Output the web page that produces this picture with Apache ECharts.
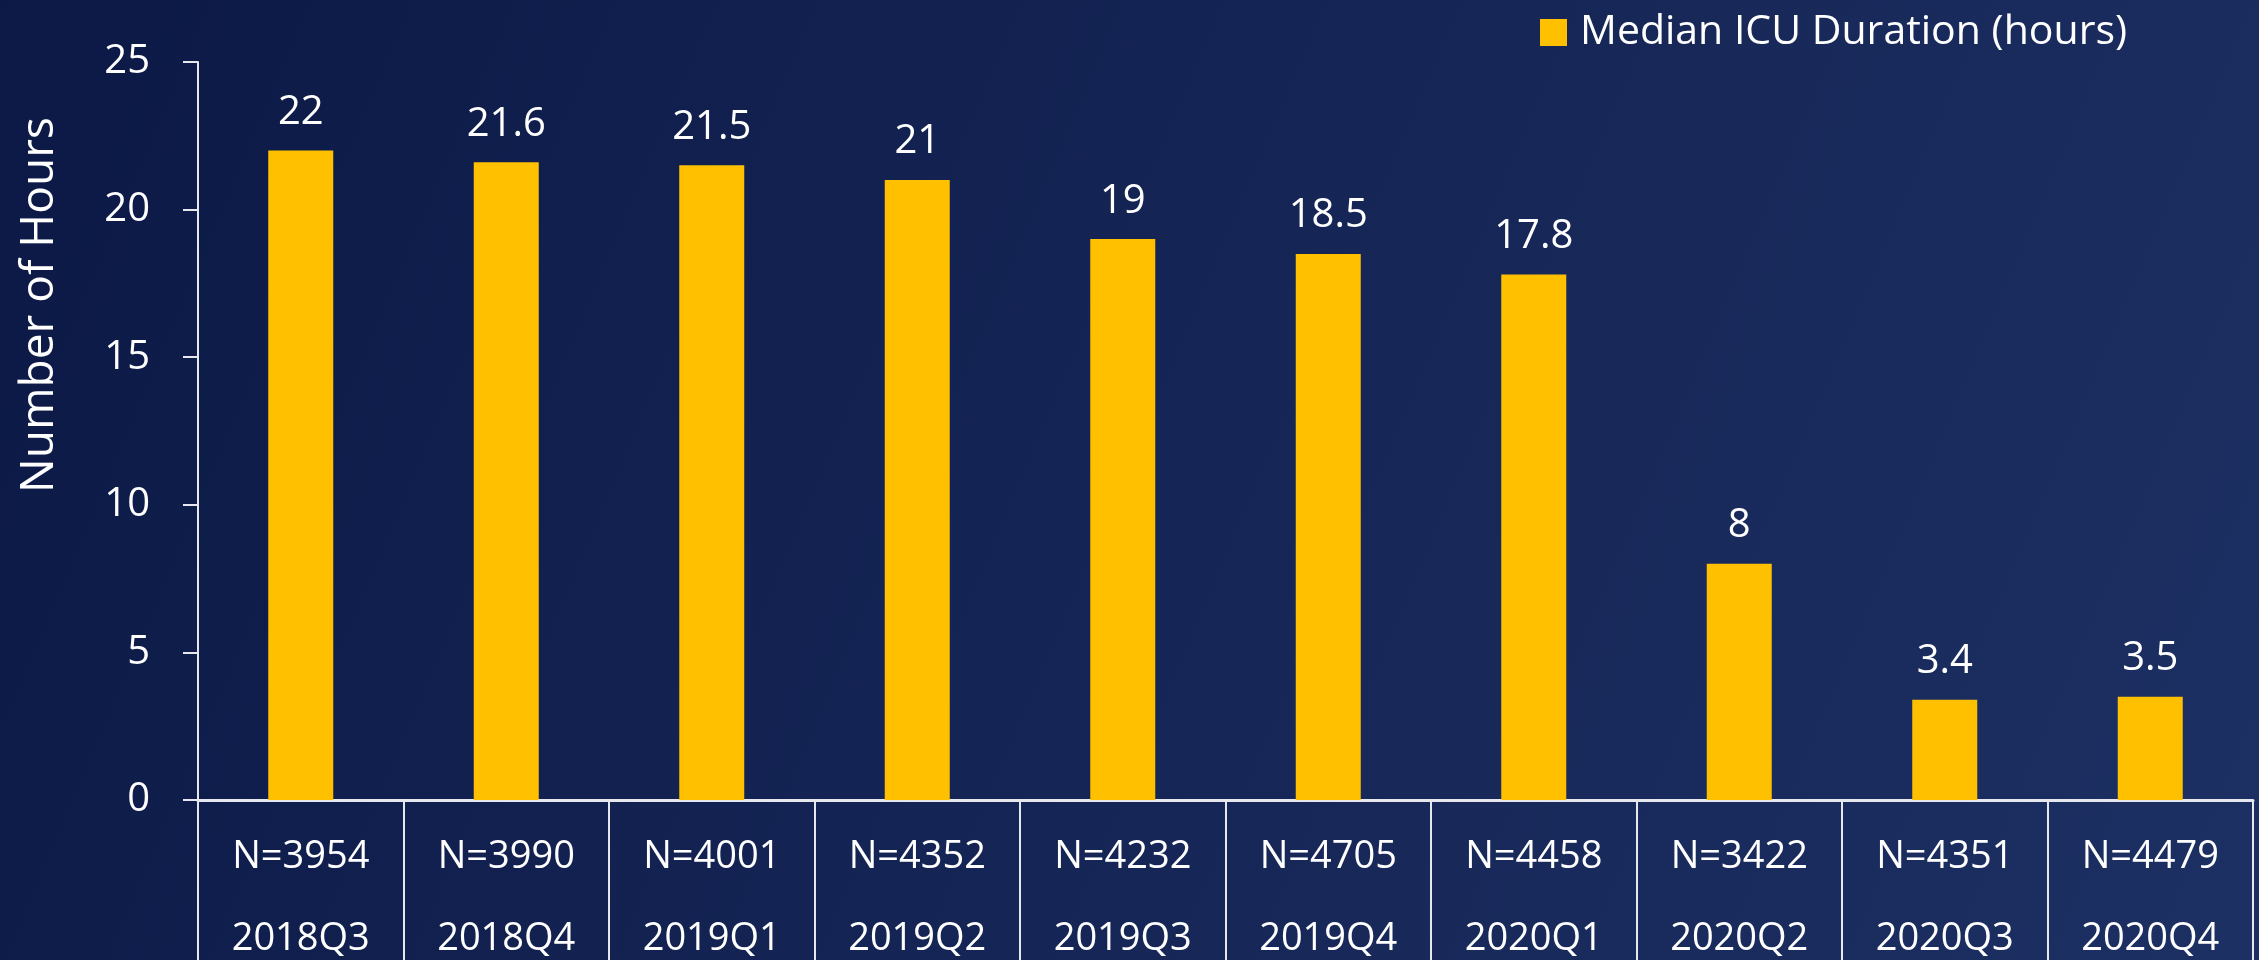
<!DOCTYPE html>
<html>
<head>
<meta charset="utf-8">
<title>Median ICU Duration</title>
<script src="https://cdn.jsdelivr.net/npm/echarts@6/dist/echarts.min.js"></script>
<style>
  html, body { margin: 0; padding: 0; width: 2259px; height: 960px; overflow: hidden; background: #12204f; }
  #chart { width: 2259px; height: 960px; }
</style>
</head>
<body>
<div id="chart"></div>
<script>
// Quarterly median ICU stay, with patient counts per quarter
const quarters = ['2018Q3', '2018Q4', '2019Q1', '2019Q2', '2019Q3', '2019Q4', '2020Q1', '2020Q2', '2020Q3', '2020Q4'];
const patientCounts = [3954, 3990, 4001, 4352, 4232, 4705, 4458, 3422, 4351, 4479];
const medianHours = [22, 21.6, 21.5, 21, 19, 18.5, 17.8, 8, 3.4, 3.5];
const seriesName = 'Median ICU Duration (hours)';
const yAxisTitle = 'Number of Hours';

const FONT = 'Open Sans';
const LINE = '#e6e8ee';

const chart = echarts.init(document.getElementById('chart'), null, { renderer: 'canvas' });

chart.setOption({
  backgroundColor: {
    type: 'linear', x: 0, y: 0, x2: 1, y2: 1,
    colorStops: [
      { offset: 0, color: '#0c1946' },
      { offset: 1, color: '#1d3063' }
    ]
  },
  animation: false,
  textStyle: { fontFamily: FONT, color: '#ffffff' },
  legend: {
    data: [seriesName],
    left: 1540,
    top: 12,
    padding: 0,
    icon: 'rect',
    itemWidth: 27,
    itemHeight: 27,
    textStyle: { color: '#ffffff', fontSize: 41, fontFamily: FONT, padding: [0, 0, 0, 8] }
  },
  grid: { left: 198, right: 6, top: 62, bottom: 160, containLabel: false, outerBoundsMode: 'none' },
  xAxis: {
    type: 'category',
    data: quarters,
    axisLine: { show: true, lineStyle: { color: LINE, width: 3 } },
    axisTick: { show: true, length: 170, lineStyle: { color: LINE, width: 2 } },
    axisLabel: {
      color: '#ffffff',
      fontFamily: FONT,
      fontSize: 38,
      lineHeight: 82,
      margin: 16,
      interval: 0,
      formatter: (value, index) => 'N=' + patientCounts[index] + '\n' + value
    },
    splitLine: { show: false }
  },
  yAxis: {
    type: 'value',
    min: 0,
    max: 25,
    interval: 5,
    axisLine: { show: true, lineStyle: { color: LINE, width: 2 } },
    axisTick: { show: true, length: 15, lineStyle: { color: LINE, width: 2 } },
    axisLabel: { color: '#ffffff', fontFamily: FONT, fontSize: 40, margin: 48 },
    splitLine: { show: false }
  },
  graphic: [{
    type: 'text',
    x: 40,
    y: 305,
    rotation: Math.PI / 2,
    style: {
      text: yAxisTitle,
      fill: '#ffffff',
      fontFamily: FONT,
      fontSize: 46,
      align: 'center',
      verticalAlign: 'middle'
    }
  }],
  series: [{
    name: seriesName,
    type: 'bar',
    data: medianHours,
    barWidth: 65,
    itemStyle: { color: '#ffc000' },
    label: {
      show: true,
      position: 'top',
      distance: 18,
      color: '#ffffff',
      fontFamily: FONT,
      fontSize: 40
    }
  }]
});
</script>
</body>
</html>
